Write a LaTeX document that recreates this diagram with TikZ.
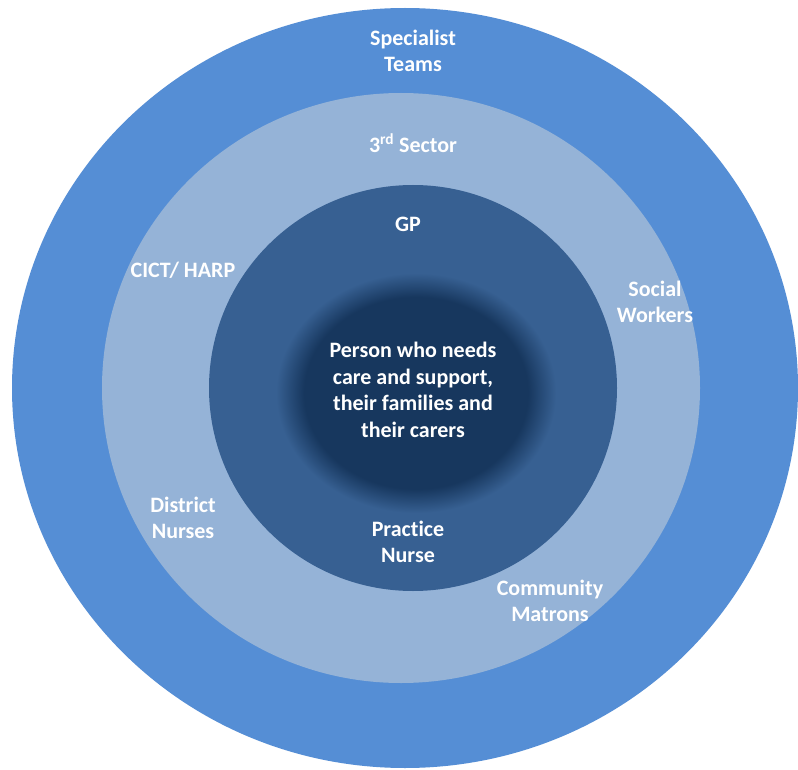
\documentclass[tikz,border=0pt]{standalone}
\usepackage{fontspec}
\setmainfont[Ligatures=NoCommon]{Carlito}
\definecolor{ringout}{HTML}{558ED5}
\definecolor{ringmid}{HTML}{95B3D7}
\definecolor{ringin}{HTML}{376092}
\definecolor{core}{HTML}{17375E}
% soft edged centre: flat core, then a short fade into the inner ring
% (the path box maps onto the middle 50bp of the shading)
\pgfdeclareradialshading{coreglow}{\pgfpoint{0bp}{0bp}}{color(0bp)=(core); color(20bp)=(core); color(25bp)=(ringin); color(50bp)=(ringin)}
\tikzset{
  lbl/.style={text=white, align=center, inner sep=0pt, font=\fontsize{22}{26.5}\selectfont\bfseries},
}

\begin{document}
\begin{tikzpicture}[x=1pt, y=-1pt]
  \useasboundingbox[fill=white] (0,0) rectangle (798,770);
  % the rings, outside in
  \fill[ringout] (405,388) ellipse[x radius=393, y radius=380];
  \fill[ringmid] (401,388) ellipse[x radius=299, y radius=295];
  \fill[ringin] (413,388) ellipse[x radius=204, y radius=203];
  \shade[shading=coreglow] (416,393) ellipse[x radius=140, y radius=120];
  % outer ring
  \node[lbl] (spec) at (413,51) {Specialist\\Teams};
  % middle ring
  \node[lbl] (third) at (413,143) {3\textsuperscript{rd} Sector};
  \node[lbl] (cict) at (183,270) {CICT/ HARP};
  \node[lbl] (social) at (655,302) {Social\\Workers};
  \node[lbl] (district) at (183,518) {District\\Nurses};
  \node[lbl] (matron) at (550,601) {Community\\Matrons};
  % inner ring
  \node[lbl] (gp) at (408,224) {GP};
  \node[lbl] (pnurse) at (408,542) {Practice\\Nurse};
  % centre
  \node[lbl] (person) at (413,390) {Person who needs\\care and support,\\their families and\\their carers};
\end{tikzpicture}
\end{document}
